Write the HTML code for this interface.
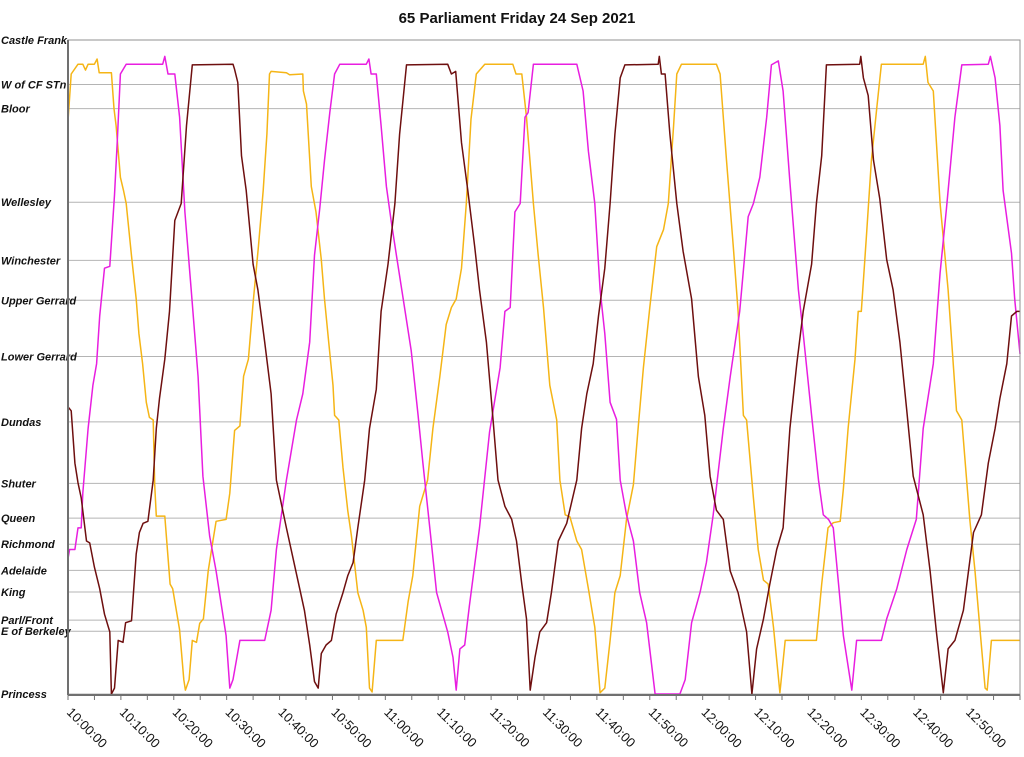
<!DOCTYPE html>
<html><head><meta charset="utf-8"><style>
html,body{margin:0;padding:0;background:#fff;}
svg{display:block;}
.yl{font-family:"Liberation Sans",sans-serif;font-weight:bold;font-style:italic;font-size:11px;fill:#111;}
.xl{font-family:"Liberation Sans",sans-serif;font-size:13px;fill:#111;}
</style></head><body>
<svg id="chart" width="1024" height="757" viewBox="0 0 1024 757" xmlns="http://www.w3.org/2000/svg">
<text x="517" y="23" text-anchor="middle" style="font-family:'Liberation Sans',sans-serif;font-weight:bold;font-size:15px;fill:#111">65 Parliament Friday 24 Sep 2021</text>
<g id="grid"></g>
<g id="ylabels"></g>
<g id="xaxis"></g>
<g id="series"></g>
<rect x="68" y="40" width="952" height="655" fill="none" stroke="#909090" stroke-width="1"/>
<line x1="68" y1="40" x2="68" y2="695" stroke="#707070" stroke-width="2"/>
<line x1="68" y1="695" x2="1020" y2="695" stroke="#707070" stroke-width="2"/>
</svg>
<script>
// stops (route distance, % of route)
const stopNames = ["Castle Frank","W of CF STn","Bloor","Wellesley","Winchester","Upper Gerrard","Lower Gerrard","Dundas","Shuter","Queen","Richmond","Adelaide","King","Parl/Front","E of Berkeley","Princess"];
const stopDist = [100,93.2,89.5,75.2,66.3,60.2,51.6,41.6,32.2,26.9,22.9,18.9,15.6,11.3,9.6,0];
// time tick labels (minutes after 10:00)
const tickMinutes = [0,10,20,30,40,50,60,70,80,90,100,110,120,130,140,150,160,170];
const tickLabels = ["10:00:00","10:10:00","10:20:00","10:30:00","10:40:00","10:50:00","11:00:00","11:10:00","11:20:00","11:30:00","11:40:00","11:50:00","12:00:00","12:10:00","12:20:00","12:30:00","12:40:00","12:50:00"];
// series: time (min after 10:00) and distance
const orangeT = [0,0.6,1.9,2.8,3.3,3.8,5.0,5.5,5.9,8.2,8.7,9.1,9.9,10.5,11.0,12.0,12.9,13.4,14.1,14.8,15.4,16.1,16.4,16.7,18.3,19.3,19.8,21.1,21.9,22.2,22.9,23.5,24.3,24.9,25.6,26.5,27.4,28.0,29.9,30.6,31.5,32.5,33.2,34.1,35.0,36.0,36.9,37.6,38.1,38.4,41.3,41.9,44.4,44.5,45.1,46.0,46.9,47.9,48.5,49.3,50.1,50.4,51.2,52.0,52.9,53.6,54.8,55.8,56.4,57.0,57.5,58.3,63.3,64.3,65.2,66.5,68.0,69.0,70.3,71.5,72.5,73.4,74.4,75.3,76.2,77.2,78.8,84.1,84.7,85.1,85.8,86.7,88.0,88.9,89.9,91.1,92.4,93.0,94.0,94.9,96.2,97.1,98.4,99.6,100.6,101.5,102.5,103.4,104.4,105.6,106.9,107.8,108.8,110.0,111.3,112.6,113.5,114.5,115.1,116.0,122.6,123.3,124.5,125.8,126.7,127.7,128.3,129.6,130.5,131.5,132.4,133.4,134.6,135.6,141.5,142.5,143.7,144.7,146.0,146.6,147.5,148.8,149.4,150.0,151.0,151.9,152.9,153.8,161.7,162.1,162.6,163.6,164.9,166.4,168.0,169.0,170.5,171.5,172.4,173.4,173.8,174.6,180];
const orangeD = [87.6,94.8,96.3,96.3,95.4,96.3,96.3,97.1,95,95,89.5,86.9,79,77,75,67,60.4,55.1,50.5,44.6,42.3,41.9,32,27.2,27.2,16.8,16.1,9.8,2.2,0.6,2.2,8.2,7.9,10.8,11.5,18.8,23.4,26.4,26.7,30.7,40.3,41,48.6,51.2,59.8,68.4,77,85.6,94.8,95.2,95.0,94.7,94.8,92.2,90.2,77.6,73.7,66.4,60.4,53.8,47.2,42.6,41.9,34.6,28.0,24.1,15.5,12.8,10.2,0.9,0.3,8.2,8.2,14.1,18.1,28.7,32.7,40.6,48.5,56.5,59.1,60.4,65.1,75,87.9,94.8,96.3,96.3,94.8,94.8,94.8,88.2,75,67.1,59.1,47.2,41.9,32.7,27.4,27.1,23.4,22.1,16.1,10.2,0.2,0.9,8.2,15.5,18.1,26.7,32,40.6,49.9,59.1,68.4,71,75,86.9,94.8,96.3,96.3,94.8,81.6,68.4,58.5,42.6,41.9,30,22.1,17.4,16.8,10.2,0.2,8.2,8.2,16.8,25.4,26.2,26.4,31.4,40.6,51.2,58.5,58.5,70.4,81.6,89.5,96.3,96.3,97.5,93.5,92.2,75,61.8,43.3,41.9,26.7,18.8,10.2,0.9,0.6,8.2,8.2];
const magentaT = [0,0.3,1.3,1.9,2.5,2.8,3.8,4.7,5.4,6.0,6.9,7.9,8.8,9.3,9.9,11.0,17.9,18.3,18.9,20.2,21.1,22.1,23.3,24.6,25.5,26.8,28.0,29.9,30.6,31.2,32.5,37.2,38.4,39.4,41.3,43.2,44.4,45.7,46.6,47.6,48.5,49.5,50.4,51.4,56.4,56.9,57.3,58.3,59.2,60.2,61.1,62.1,63.3,64.9,66.2,67.1,68.4,69.7,71.8,72.8,73.4,74.1,75.0,75.9,77.8,79.7,81.7,82.6,83.6,84.5,85.5,86.4,87.0,88.0,96.2,97.4,98.4,99.6,100.6,101.5,102.5,103.7,104.4,105.6,106.9,108.1,109.4,111.0,115.7,116.7,117.9,119.5,120.7,122.0,123.9,125.2,127.0,128.6,129.6,130.8,132.1,133.0,134.3,135.2,136.5,138.1,139.0,140.6,141.9,142.8,143.8,144.7,146.6,148.2,149.1,153.8,154.8,156.7,158.6,160.4,161.7,163.6,164.9,166.1,167.7,169.0,174.0,174.4,175.3,176.2,176.8,178.4,179.0,180];
const magentaD = [20.7,22.1,22.1,25.4,25.4,30.7,40.6,47.2,50.5,57.8,65.1,65.4,76.3,84.3,94.8,96.3,96.3,97.5,94.8,94.8,88.2,73.7,61.8,48.5,33.3,24.1,18.8,8.9,0.9,2.2,8.2,8.2,12.8,22.1,32.7,41.9,45.9,53.8,67.1,74.3,81.6,88.9,94.8,96.3,96.3,97.1,94.8,94.8,86.9,77.6,72.3,67.1,60.8,52.5,42.6,35.3,25.4,15.5,9.5,5.6,0.6,6.9,7.5,13.5,25.4,40,49.9,58.5,59.1,73.7,75,88.2,88.9,96.3,96.3,92.2,83,75,61.8,55.1,44.6,42,32.7,27.4,23.4,15.5,10.9,0,0,2.2,10.9,15.5,20.1,27.4,40.6,48.5,58.5,73,75,79,88.2,96.2,96.8,92.2,78.3,61.8,55.1,42.6,32.7,27.4,26.7,25.4,8.9,0.6,8.2,8.2,11.5,16.1,22.1,26.7,40.6,50.5,64.4,74.3,88.2,96.2,96.3,97.5,94.2,86.9,77,67.4,60.4,52];
const redT = [0,0.6,1.3,1.9,2.5,3.5,4.1,5.0,6.0,6.9,7.9,8.2,8.8,9.5,10.4,10.9,12.0,12.9,13.5,14.2,15.1,16.1,16.7,17.3,18.3,19.2,20.2,21.4,22.4,23.5,31.2,31.5,32.1,32.8,33.7,35.0,35.9,37.2,38.4,39.4,41.3,43.8,44.7,45.7,46.6,47.3,47.9,48.8,49.8,50.7,52.0,52.9,53.9,54.8,56.1,57.0,58.3,59.2,60.5,61.8,62.7,64.0,71.8,72.5,73.3,74.4,75.6,76.9,77.8,79.1,80.3,81.3,82.6,83.9,84.8,85.8,86.7,87.4,88.3,89.2,90.5,91.4,92.7,94.3,96.2,97.1,98.1,99.3,100.3,101.5,102.5,103.4,104.4,105.3,111.6,111.8,112.2,112.9,113.8,115.1,116.3,117.9,119.2,120.4,121.4,122.6,123.9,125.2,126.7,128.3,129.3,130.2,131.5,132.7,134.0,135.2,136.5,137.8,139.0,140.6,141.5,142.5,143.4,149.7,149.9,150.4,151.3,152.3,153.5,154.8,156.0,157.3,158.6,159.8,161.7,163.0,164.2,165.5,166.4,167.7,169.3,171.2,172.7,174.0,175.3,176.2,177.5,178.4,179.4,180];
const redD = [43.9,43.3,35.3,32.3,30,23.4,23.1,19.4,16.1,12.2,9.5,0,0.9,8.2,7.9,10.9,11.2,21.4,24.7,26.1,26.4,32.7,40.6,45.2,51.2,58.5,72.4,75,86.9,96.2,96.3,95.5,93.5,82.3,77,65.7,61.8,53.8,45.9,32.7,25.4,16.1,12.8,7.5,1.9,0.9,6.2,7.5,8.2,12.2,15.5,18.1,20.1,25.4,32.7,40.6,46.6,58.5,65.7,75,85.6,96.2,96.3,94.8,95.2,84.3,77,68.4,61.8,53.8,42.6,32.7,28.7,26.7,23.4,16.8,11.5,0.6,5.6,9.5,10.9,15.5,23.4,26.1,32.7,40.6,45.9,50.5,57.8,65.1,75,85.6,94.2,96.2,96.3,97.5,94.8,94.8,85.6,75,67.7,60.4,48.5,42.6,33.3,28.1,26.7,18.8,15.5,9.5,0,6.9,11.5,16.8,22.1,25.4,40.6,50.5,58.5,65.7,75,82.3,96.2,96.3,97.5,94.2,91.5,81.6,75.7,66.4,61.8,53.8,43.3,33.3,27.4,18.8,9.5,0.2,6.9,8.2,12.8,24.7,27.4,35.3,40.6,45.2,50.5,57.8,58.5,58.5];

const NS = "http://www.w3.org/2000/svg";
const X0 = 68, X1 = 1020, Y0 = 694, Y1 = 40, TMAX = 180;
function xScale(t){ return X0 + t/TMAX*(X1-X0); }
function yScale(d){ return Y0 - d/100*(Y0-Y1); }
function mk(tag, attrs, parent){
  const e = document.createElementNS(NS, tag);
  for (const k in attrs) e.setAttribute(k, attrs[k]);
  parent.appendChild(e); return e;
}
const grid = document.getElementById('grid');
const ylab = document.getElementById('ylabels');
stopNames.forEach((n,i)=>{
  const y = yScale(stopDist[i]);
  const l = mk('line',{x1:X0,x2:X1,y1:y,y2:y,stroke:'#b4b4b4','stroke-width':1},grid);
  
  
  const t = mk('text',{x:1,y:y+4,'class':'yl'},ylab);
  t.textContent = n;
  
  
});
const xa = document.getElementById('xaxis');
for (let m=0; m<=TMAX; m+=5){
  const x = xScale(m);
  const tk = mk('line',{x1:x,x2:x,y1:695,y2:700,stroke:'#707070','stroke-width':1},xa);
  
  
}
tickMinutes.forEach((m,i)=>{
  const x = xScale(m);
  const t = mk('text',{x:x-2,y:713,'class':'xl',transform:'rotate(45 '+(x-2)+' 713)'},xa);
  t.textContent = tickLabels[i];
  
  
});
const sg = document.getElementById('series');
function drawSeries(T,D,color,name){
  const pts = T.map((t,i)=>xScale(t).toFixed(1)+','+yScale(D[i]).toFixed(1)).join(' ');
  const p = mk('polyline',{points:pts,fill:'none',stroke:color,'stroke-width':1.5,'stroke-linejoin':'round'},sg);
  
  
}
drawSeries(orangeT,orangeD,'#f5b516','series-orange-bus');
drawSeries(magentaT,magentaD,'#e81ee0','series-magenta-bus');
drawSeries(redT,redD,'#6e0f0f','series-darkred-bus');
</script>
</body></html>
